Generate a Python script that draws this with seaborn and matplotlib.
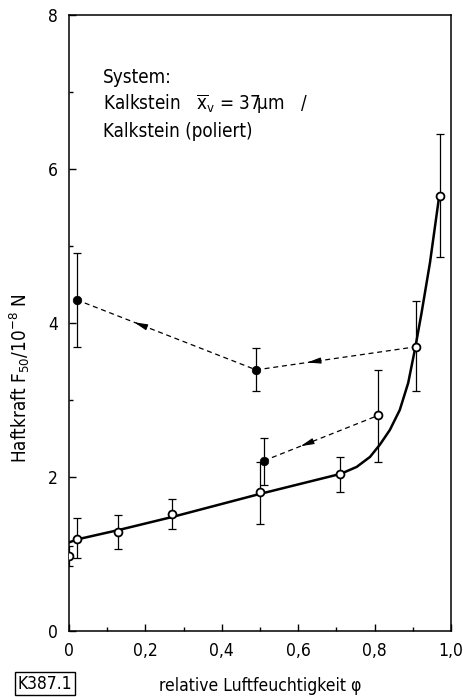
import numpy as np
import matplotlib
matplotlib.use('Agg')
import matplotlib.pyplot as plt
from matplotlib.ticker import MultipleLocator, FixedLocator
import seaborn as sns

# open circles on the solid curve
phi_open = [0.0, 0.022, 0.129, 0.27, 0.50, 0.71, 0.908, 0.972]
f_open = [0.97, 1.20, 1.28, 1.52, 1.80, 2.04, 3.69, 5.65]
f_open_lo = [0.84, 0.95, 1.06, 1.33, 1.39, 1.81, 3.11, 4.85]
f_open_hi = [1.11, 1.47, 1.51, 1.71, 2.20, 2.26, 4.29, 6.45]

# fitted solid curve
curve_phi = [0.0, 0.022, 0.129, 0.27, 0.50, 0.711, 0.753, 0.788, 0.814, 0.840,
             0.866, 0.888, 0.907, 0.923, 0.945, 0.969]
curve_f = [1.15, 1.19, 1.31, 1.48, 1.78, 2.04, 2.13, 2.26, 2.42, 2.61,
           2.87, 3.22, 3.69, 4.13, 4.78, 5.64]

# upper dashed path (filled circles, ends on open point)
up_phi = [0.02, 0.49, 0.908]
up_f = [4.30, 3.39, 3.69]
up_lo = [3.69, 3.11]
up_hi = [4.91, 3.67]

# lower dashed path
low_phi = [0.51, 0.81]
low_f = [2.21, 2.80]
low_lo = [1.90, 2.20]
low_hi = [2.50, 3.39]

xticks = [0, 0.2, 0.4, 0.6, 0.8, 1.0]
xtick_labels = ['0', '0,2', '0,4', '0,6', '0,8', '1,0']
yticks = [0, 2, 4, 6, 8]

sns.set_style('ticks')
plt.rcParams['font.family'] = ['DejaVu Sans']
plt.rcParams['font.stretch'] = 'condensed'
plt.rcParams['text.color'] = 'black'
plt.rcParams['axes.labelcolor'] = 'black'
plt.rcParams['xtick.color'] = 'black'
plt.rcParams['ytick.color'] = 'black'
plt.rcParams['axes.edgecolor'] = 'black'

fig = plt.figure(figsize=(4.63, 6.97), dpi=100)
ax = fig.add_axes([0.149, 0.0947, 0.825, 0.884])

sns.lineplot(x=curve_phi, y=curve_f, ax=ax, color='black', lw=1.8, sort=False)

dash = (0, (4, 3))
sns.lineplot(x=up_phi, y=up_f, ax=ax, color='black', lw=0.9, linestyle=dash, sort=False)
sns.lineplot(x=low_phi, y=low_f, ax=ax, color='black', lw=0.9, linestyle=dash, sort=False)

# error bars
ekw = dict(fmt='none', ecolor='black', elinewidth=0.9, capsize=3, capthick=0.9)
ax.errorbar(phi_open, f_open,
            yerr=[np.array(f_open) - np.array(f_open_lo), np.array(f_open_hi) - np.array(f_open)], **ekw)
ax.errorbar(up_phi[:2], up_f[:2],
            yerr=[np.array(up_f[:2]) - np.array(up_lo), np.array(up_hi) - np.array(up_f[:2])], **ekw)
ax.errorbar(low_phi, low_f,
            yerr=[np.array(low_f) - np.array(low_lo), np.array(low_hi) - np.array(low_f)], **ekw)

# markers
sns.scatterplot(x=phi_open, y=f_open, ax=ax, s=32, facecolor='white', edgecolor='black', linewidth=1.3, zorder=5)
sns.scatterplot(x=low_phi[1:], y=low_f[1:], ax=ax, s=32, facecolor='white', edgecolor='black', linewidth=1.3, zorder=5)
sns.scatterplot(x=up_phi[:2], y=up_f[:2], ax=ax, s=38, color='black', edgecolor='black', zorder=5)
sns.scatterplot(x=low_phi[:1], y=low_f[:1], ax=ax, s=38, color='black', edgecolor='black', zorder=5)

# arrowheads on the dashed paths (pointing back towards lower phi)
for px, py in [(up_phi, up_f), (low_phi, low_f)]:
    for i in range(len(px) - 1):
        x0, y0, x1, y1 = px[i], py[i], px[i + 1], py[i + 1]
        t = 0.32
        hx, hy = x0 + t * (x1 - x0), y0 + t * (y1 - y0)
        bx, by = x0 + (t + 0.05) * (x1 - x0), y0 + (t + 0.05) * (y1 - y0)
        ax.annotate('', xy=(hx, hy), xytext=(bx, by),
                    arrowprops=dict(arrowstyle='-|>,head_length=0.8,head_width=0.18',
                                    color='black', lw=0.8, shrinkA=0, shrinkB=0))

ax.set_xlim(0, 1.0)
ax.set_ylim(0, 8)
ax.set_xticks(xticks)
ax.set_xticklabels(xtick_labels)
ax.xaxis.set_minor_locator(MultipleLocator(0.1))
ax.set_yticks(yticks)
ax.yaxis.set_minor_locator(FixedLocator([1, 3, 5, 7]))
ax.tick_params(which='major', direction='in', length=5, width=1, labelsize=12.5, pad=8)
ax.tick_params(which='minor', direction='in', length=3, width=1)
for s in ax.spines.values():
    s.set_linewidth(1.1)
    s.set_visible(True)

ax.set_xlabel('relative Luftfeuchtigkeit φ', fontsize=12.5, labelpad=12)
ax.set_ylabel(r'Haftkraft F$_{50}$/10$^{-8}$ N', fontsize=13.5)
ax.yaxis.set_label_coords(-0.097, 0.41)

ax.text(0.09, 0.890, 'System:', transform=ax.transAxes, fontsize=13.5)
ax.text(0.09, 0.846, r'Kalkstein   $\overline{\mathrm{x}}_{\mathrm{v}}$ = 37µm   /', transform=ax.transAxes, fontsize=13.5)
ax.text(0.09, 0.802, 'Kalkstein (poliert)', transform=ax.transAxes, fontsize=13.5)

fig.text(0.038, 0.012, 'K387.1', fontsize=12.5,
         bbox=dict(boxstyle='square,pad=0.15', facecolor='white', edgecolor='black', lw=1))

fig.savefig('out.png', dpi=100)
